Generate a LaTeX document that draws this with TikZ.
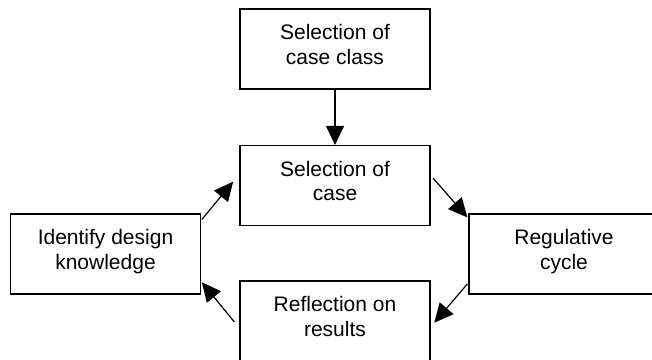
\documentclass[tikz,border=0pt]{standalone}
\usepackage{fontspec}
\setmainfont{Liberation Sans}
\usetikzlibrary{arrows.meta}

\begin{document}
\begin{tikzpicture}[x=1pt,y=1pt,
  box/.style={draw,line width=1.2pt,minimum width=190pt,minimum height=80pt,
    inner sep=0pt,align=center,font=\fontsize{21}{24.5}\selectfont,
    execute at end node={\rule[-9pt]{0pt}{9pt}}},
  arr/.style={line width=1.2pt,-{Triangle[length=19pt,width=18pt]}}]
  \clip (0,0) rectangle (652,359);
  \node[box] (cls) at (335,310) {Selection of\\case class};
  \node[box] (sel) at (335,173.5) {Selection of\\case};
  \node[box] (ident) at (105.5,105) {Identify design\\knowledge};
  \node[box] (reg) at (564,105) {Regulative\\cycle};
  \node[box] (refl) at (335,38) {Reflection on\\results};
  \draw[arr] (cls) -- (sel);
  \draw[arr] ([shift={(2.4,7.5)}]sel.east) -- ([shift={(-1,-4)}]reg.north west);
  \draw[arr] ([shift={(-1,10.7)}]reg.south west) -- ([shift={(3.7,-1.7)}]refl.east);
  \draw[arr] ([shift={(-5,-1)}]refl.west) -- ([shift={(0.8,12.3)}]ident.south east);
  \draw[arr] ([shift={(0.8,-6)}]ident.north east) -- ([shift={(-6.3,3.8)}]sel.west);
\end{tikzpicture}
\end{document}
